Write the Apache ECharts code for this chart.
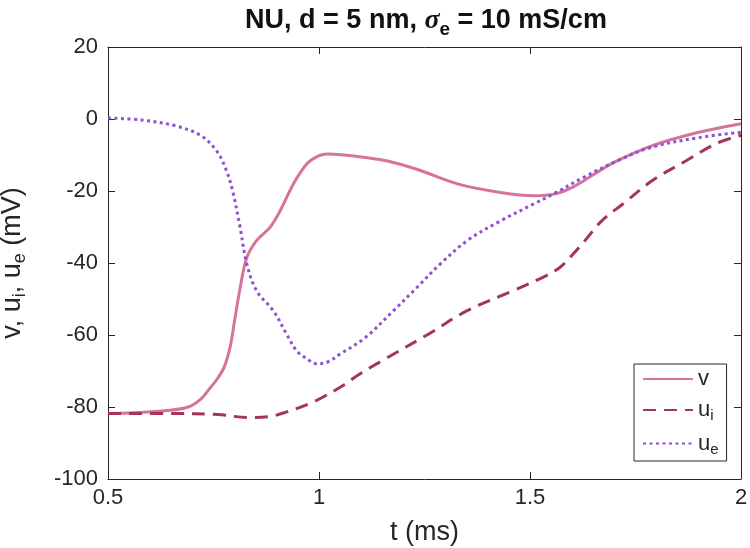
<!DOCTYPE html>
<html>
<head>
<meta charset="utf-8">
<script src="https://cdn.jsdelivr.net/npm/echarts@6/dist/echarts.min.js"></script>
<style>html,body{margin:0;padding:0;background:#fff;}#c{width:750px;height:548px;}</style>
</head>
<body>
<div id="c"></div>
<script>
// ---- data ----
var xTicks = [0.5, 1, 1.5, 2];
var yTicks = [-100, -80, -60, -40, -20, 0, 20];

var tV = [0.5, 0.56, 0.64, 0.69, 0.72, 0.74, 0.757, 0.775, 0.79, 0.80, 0.813, 0.829, 0.852, 0.884, 0.908, 0.939, 0.971, 1.0, 1.02, 1.06, 1.11, 1.16, 1.23, 1.33, 1.43, 1.51, 1.56, 1.60, 1.65, 1.70, 1.79, 1.90, 2.0];
var vVals = [-81.8, -81.6, -81.0, -80.0, -77.8, -75.0, -72.5, -69.0, -63.0, -56.0, -47.0, -38.5, -33.8, -30.1, -25.5, -18.1, -12.5, -10.2, -9.7, -10.0, -10.7, -11.6, -13.9, -18.1, -20.4, -21.3, -20.8, -19.0, -15.5, -12.0, -7.4, -3.7, -1.3];

var tUi = [0.5, 0.64, 0.76, 0.83, 0.88, 0.92, 0.99, 1.06, 1.09, 1.15, 1.26, 1.35, 1.46, 1.53, 1.57, 1.60, 1.63, 1.67, 1.72, 1.79, 1.87, 1.94, 2.0];
var uiVals = [-81.8, -81.8, -82.1, -82.9, -82.7, -81.5, -78.4, -73.8, -71.3, -67.1, -59.7, -53.3, -47.7, -44.0, -41.3, -37.8, -33.8, -28.3, -23.6, -17.1, -11.6, -6.9, -4.5];

var tUe = [0.5, 0.58, 0.66, 0.72, 0.757, 0.781, 0.797, 0.813, 0.829, 0.852, 0.892, 0.923, 0.947, 0.97, 0.995, 1.02, 1.05, 1.11, 1.176, 1.232, 1.287, 1.351, 1.43, 1.509, 1.556, 1.627, 1.707, 1.786, 1.904, 2.0];
var ueVals = [0.3, -0.3, -1.9, -4.6, -8.8, -14.4, -20.8, -30.1, -40.3, -47.7, -53.3, -59.7, -64.4, -66.5, -68.0, -67.5, -65.3, -60.7, -53.3, -46.8, -40.3, -33.8, -28.3, -23.6, -20.8, -16.2, -11.6, -7.9, -5.1, -3.7];

var seriesNames = ['v', 'u_i', 'u_e'];

function zip(a, b) { return a.map(function (x, i) { return [x, b[i]]; }); }

var FONT = '"Liberation Sans", Arial, Helvetica, sans-serif';
var TXT = '#262626';

var chart = echarts.init(document.getElementById('c'), null, {renderer: 'canvas'});

function axisCommon() {
  return {
    axisLine: {show: true, onZero: false, lineStyle: {color: TXT, width: 1}},
    axisTick: {show: true, inside: true, length: 7, lineStyle: {color: TXT, width: 1}},
    splitLine: {show: false}
  };
}

var option = {
  animation: false,
  backgroundColor: '#fff',
  title: {
    text: '{a|NU, d = 5 nm, }{s|σ}{sub|e}{a| = 10 mS/cm}',
    left: 421,
    textAlign: 'center',
    top: -2,
    textStyle: {
      rich: {
        a: {fontSize: 27, fontWeight: 'bold', fontFamily: FONT, color: '#111'},
        s: {fontSize: 28, fontStyle: 'italic', fontFamily: '"Liberation Serif", "DejaVu Serif", serif', color: '#111'},
        sub: {fontSize: 19, fontWeight: 'bold', fontFamily: FONT, color: '#111', padding: [17, 0, 0, 0]}
      }
    }
  },
  grid: {left: 108, right: 9, top: 47, bottom: 69, containLabel: false, outerBoundsMode: 'none'},
  xAxis: [
    Object.assign({
      type: 'value', min: 0.5, max: 2, interval: 0.5, position: 'bottom',
      axisLabel: {color: TXT, fontSize: 22, fontFamily: FONT, margin: 8},
      name: 't (ms)', nameLocation: 'middle', nameGap: 40,
      nameTextStyle: {color: TXT, fontSize: 27, fontFamily: FONT}
    }, axisCommon()),
    Object.assign({
      type: 'value', min: 0.5, max: 2, interval: 0.5, position: 'top',
      axisLabel: {show: false}
    }, axisCommon())
  ],
  yAxis: [
    Object.assign({
      type: 'value', min: -100, max: 20, interval: 20, position: 'left',
      axisLabel: {color: TXT, fontSize: 22, fontFamily: FONT, margin: 10},
      name: '{n|v, u}{s|i}{n|, u}{s|e}{n| (mV)}', nameLocation: 'middle', nameGap: 79,
      nameTextStyle: {
        color: TXT, fontSize: 27, fontFamily: FONT,
        rich: {
          n: {fontSize: 27, fontFamily: FONT, color: TXT},
          s: {fontSize: 18, fontFamily: FONT, color: TXT, padding: [15, 0, 0, 0]}
        }
      }
    }, axisCommon()),
    Object.assign({
      type: 'value', min: -100, max: 20, interval: 20, position: 'right',
      axisLabel: {show: false}
    }, axisCommon())
  ],
  legend: {
    orient: 'vertical',
    left: 634, top: 364,
    backgroundColor: '#fff',
    borderColor: TXT, borderWidth: 1, borderRadius: 0,
    padding: [4, 8, 4, 8],
    itemWidth: 50, itemHeight: 18, itemGap: 9,
    data: seriesNames,
    itemStyle: {opacity: 0, borderWidth: 0},
    formatter: function (name) {
      if (name === 'v') return '{n|v}';
      if (name === 'u_i') return '{n|u}{s|i}';
      return '{n|u}{s|e}';
    },
    textStyle: {
      color: TXT,
      rich: {
        n: {fontSize: 22, fontFamily: FONT, color: TXT},
        s: {fontSize: 15, fontFamily: FONT, color: TXT, padding: [12, 0, 0, 0]}
      }
    }
  },
  series: [
    {
      name: 'v', type: 'line', data: zip(tV, vVals), showSymbol: false, symbol: 'none',
      smooth: 0.35,
      lineStyle: {color: '#d6739c', width: 3, type: 'solid'},
      itemStyle: {color: '#d6739c'}
    },
    {
      name: 'u_i', type: 'line', data: zip(tUi, uiVals), showSymbol: false, symbol: 'none',
      smooth: 0.35,
      lineStyle: {color: '#a33559', width: 3, type: [13, 8]},
      itemStyle: {color: '#a33559'}
    },
    {
      name: 'u_e', type: 'line', data: zip(tUe, ueVals), showSymbol: false, symbol: 'none',
      smooth: 0.35,
      lineStyle: {color: '#8d4fd6', width: 3, type: [3, 3.5]},
      itemStyle: {color: '#8d4fd6'}
    }
  ]
};
chart.setOption(option);
</script>
</body>
</html>
